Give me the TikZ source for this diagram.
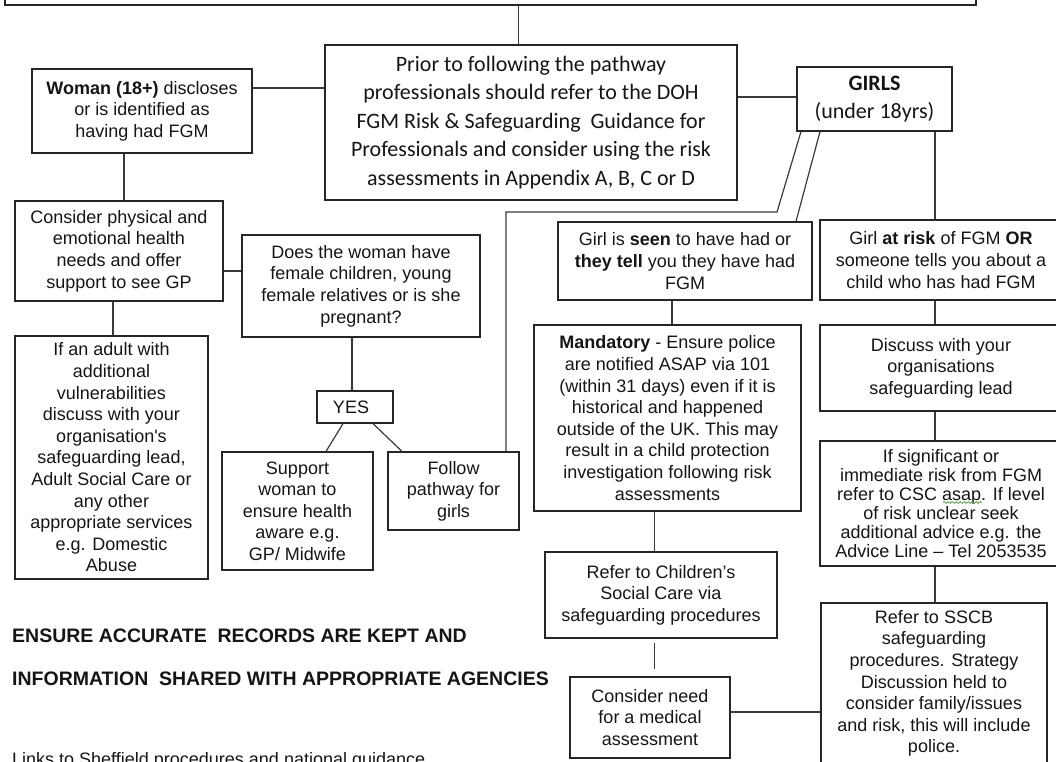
\documentclass[tikz,border=0pt]{standalone}
\usepackage{fontspec}
\setmainfont{Liberation Sans}
\newfontfamily\calib{Carlito}
\usetikzlibrary{calc,decorations.pathmorphing}
\definecolor{ink}{HTML}{151515}
\definecolor{edgec}{HTML}{262626}
\definecolor{wirec}{HTML}{3A3A3A}
\definecolor{squigc}{HTML}{5E9E3C}
\begin{document}
\begin{tikzpicture}[x=1pt,y=-1pt,
  box/.style={draw=edgec, line width=1.2pt, inner sep=0pt, align=center, text=ink,
              font=\fontsize{18}{21.6}\selectfont},
  cbox/.style={box, font=\calib\fontsize{22}{28.5}\selectfont},
  wire/.style={draw=wirec, line width=1.2pt},
  plain/.style={inner sep=0pt, text=ink}]
\useasboundingbox (0,0) rectangle (1056,761);

% boxes
\node[draw=edgec, line width=1.2pt, inner sep=0pt, minimum width=971pt, minimum height=65pt] (topbox) at (490.5,-27.5) {};
\node[cbox, minimum width=412pt, minimum height=155pt] (prior) at (531,122.5)
  {Prior to following the pathway\\professionals should refer to the DOH\\FGM Risk \& Safeguarding\ \ Guidance for\\Professionals and consider using the risk\\assessments in Appendix A, B, C or D};
\node[box, minimum width=220pt, minimum height=84pt] (woman) at (142,111)
  {\textbf{Woman (18+)} discloses\\or is identified as\\having had FGM};
\node[cbox, font=\calib\fontsize{22}{28}\selectfont, minimum width=155pt, minimum height=64pt] (girls) at (874.5,99)
  {\textbf{GIRLS}\\(under 18yrs)};
\node[box, minimum width=208pt, minimum height=100pt] (consider) at (119,251)
  {Consider physical and\\emotional health\\needs and offer\\support to see GP};
\node[box, minimum width=238pt, minimum height=102pt] (does) at (361,286)
  {Does the woman have\\female children, young\\female relatives or is she\\pregnant?};
\node[box, minimum width=193pt, minimum height=243pt] (adult) at (111.5,457.5)
  {If an adult with\\additional\\vulnerabilities\\discuss with your\\organisation\textquotesingle s\\safeguarding lead,\\Adult Social Care or\\any other\\appropriate services\\e.g. Domestic\\Abuse};
\node[box, minimum width=76pt, minimum height=32pt] (yes) at (355,407) {YES\hspace{8pt}};
\node[box, minimum width=151pt, minimum height=118pt] (support) at (297.5,511)
  {Support\\woman to\\ensure health\\aware e.g.\\GP/ Midwife};
\node[box, minimum width=131pt, minimum height=78pt] (follow) at (453.5,491)
  {Follow\\pathway for\\girls};
\node[box, minimum width=254pt, minimum height=78pt] (seen) at (685,261)
  {Girl is \textbf{seen} to have had or\\\textbf{they tell} you they have had\\FGM};
\node[box, minimum width=242pt, minimum height=80pt] (risk) at (941,260)
  {Girl \textbf{at risk} of FGM \textbf{OR}\\someone tells you about a\\child who has had FGM};
\node[box, minimum width=267pt, minimum height=186pt] (mand) at (667.5,418)
  {\textbf{Mandatory} - Ensure police\\are notified ASAP via 101\\(within 31 days) even if it is\\historical and happened\\outside of the UK. This may\\result in a child protection\\investigation following risk\\assessments};
\node[box, minimum width=242pt, minimum height=86pt] (discuss) at (941,368)
  {Discuss with your\\organisations\\safeguarding lead};
\node[box, font=\fontsize{18}{19}\selectfont, minimum width=242pt, minimum height=125pt] (ifsig) at (941,503.5)
  {If significant or\\immediate risk from FGM\\refer to CSC asap. If level\\of risk unclear seek\\additional advice e.g. the\\Advice Line -- Tel 2053535};
\node[box, minimum width=232pt, minimum height=86pt] (cscref) at (661,595)
  {Refer to Children’s\\Social Care via\\safeguarding procedures};
\node[box, minimum width=160pt, minimum height=81pt] (medical) at (650,717.5)
  {Consider need\\for a medical\\assessment};
\node[box, minimum width=226pt, minimum height=161pt] (sscb) at (934,683.5)
  {Refer to SSCB\\safeguarding\\procedures. Strategy\\Discussion held to\\consider family/issues\\and risk, this will include\\police.};

% free texts
\node[plain, anchor=west, font=\bfseries\fontsize{19.5}{20}\selectfont] (ensure) at (12,636)
  {ENSURE ACCURATE\ \ RECORDS ARE KEPT AND};
\node[plain, anchor=west, font=\bfseries\fontsize{19.5}{20}\selectfont] (inform) at (12,679)
  {INFORMATION\ \ SHARED WITH APPROPRIATE\ AGENCIES};
\node[plain, anchor=base west, font=\fontsize{18}{20}\selectfont] (links) at (12,765)
  {Links to Sheffield procedures and national guidance};

% helper coordinates
\coordinate (xa) at (518.5,0);
\coordinate (ya) at (0,88);
\coordinate (yb) at (0,97);
\coordinate (xb) at (124,0);
\coordinate (yc) at (0,271);
\coordinate (xc) at (113,0);
\coordinate (xd) at (352,0);
\coordinate (xe1) at (343,0);
\coordinate (xe2) at (326,0);
\coordinate (xf1) at (373,0);
\coordinate (xf2) at (402,0);
\coordinate (xg1) at (801,0);
\coordinate (bend1) at (777,212);
\coordinate (bend2) at (506,212);
\coordinate (xh1) at (820,0);
\coordinate (xh2) at (796,0);
\coordinate (xr) at (935,0);
\coordinate (xs) at (672,0);
\coordinate (xm) at (654.5,0);
\coordinate (ym) at (0,712);
\coordinate (wavea) at (943,502.5);
\coordinate (waveb) at (982,502.5);

% connectors
\draw[wire] (topbox.south -| xa) -- (prior.north -| xa);
\draw[wire] (woman.east |- ya) -- (prior.west |- ya);
\draw[wire] (prior.east |- yb) -- (girls.west |- yb);
\draw[wire] (woman.south -| xb) -- (consider.north -| xb);
\draw[wire] (consider.east |- yc) -- (does.west |- yc);
\draw[wire] (consider.south -| xc) -- (adult.north -| xc);
\draw[wire] (does.south -| xd) -- (yes.north -| xd);
\draw[wire] (yes.south -| xe1) -- (support.north -| xe2);
\draw[wire] (yes.south -| xf1) -- (follow.north -| xf2);
\draw[wire] (girls.south -| xg1) -- (bend1) -- (bend2) -- (follow.north -| bend2);
\draw[wire] (girls.south -| xh1) -- (seen.north -| xh2);
\draw[wire] (girls.south -| xr) -- (risk.north -| xr);
\draw[wire] (seen.south -| xs) -- (mand.north -| xs);
\draw[wire] (risk.south -| xr) -- (discuss.north -| xr);
\draw[wire] (discuss.south -| xr) -- (ifsig.north -| xr);
\draw[wire] (ifsig.south -| xr) -- (sscb.north -| xr);
\draw[wire] (mand.south -| xm) -- (cscref.north -| xm);
\draw[wire, shorten <=4pt, shorten >=7pt] (cscref.south -| xm) -- (medical.north -| xm);
\draw[wire] (medical.east |- ym) -- (sscb.west |- ym);
% spell-check squiggle under "asap"
\draw[squigc, line width=0.8pt, decorate, decoration={snake, amplitude=0.9pt, segment length=4pt}] (wavea) -- (waveb);
\end{tikzpicture}
\end{document}
